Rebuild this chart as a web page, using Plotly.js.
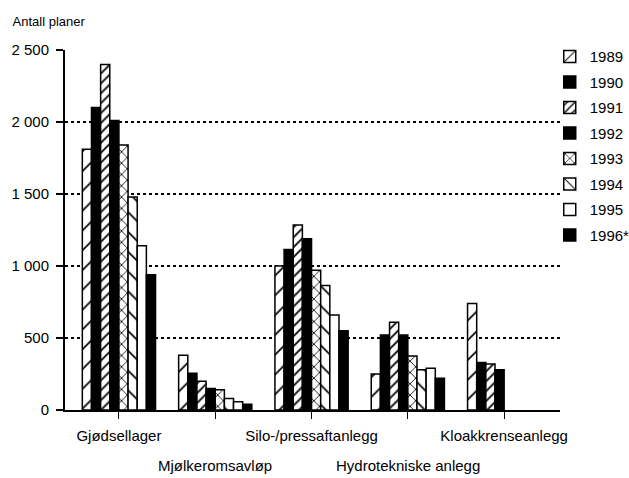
<!DOCTYPE html>
<html>
<head>
<meta charset="utf-8">
<script src="https://cdn.plot.ly/plotly-3.0.1.min.js"></script>
<style>html,body{margin:0;padding:0;background:#fff;}#chart{width:629px;height:478px;}</style>
</head>
<body>
<div id="chart"></div>
<script>
const categories = ["Gjødsellager", "Mjølkeromsavløp", "Silo-/pressaftanlegg", "Hydrotekniske anlegg", "Kloakkrenseanlegg"];
const years = ["1989", "1990", "1991", "1992", "1993", "1994", "1995", "1996*"];
const v1989 = [1810, 380, 1000, 250, 740];
const v1990 = [2100, 255, 1115, 520, 330];
const v1991 = [2400, 200, 1285, 610, 320];
const v1992 = [2010, 150, 1190, 520, 280];
const v1993 = [1840, 140, 970, 375, null];
const v1994 = [1480, 80, 865, 280, null];
const v1995 = [1140, 58, 660, 290, null];
const v1996 = [940, 40, 550, 220, null];
const yTickVals = [0, 500, 1000, 1500, 2000, 2500];
const yTickText = ["0", "500", "1 000", "1 500", "2 000", "2 500"];
const gridVals = [500, 1000, 1500, 2000];

const values = [v1989, v1990, v1991, v1992, v1993, v1994, v1995, v1996];
const styles = [
  {color: "white", pattern: {shape: "/", size: 14, solidity: 0.12, fgcolor: "black", bgcolor: "white"}},
  {color: "black"},
  {color: "white", pattern: {shape: "/", size: 7, solidity: 0.25, fgcolor: "black", bgcolor: "white"}},
  {color: "black"},
  {color: "white", pattern: {shape: "x", size: 8, solidity: 0.2, fgcolor: "black", bgcolor: "white"}},
  {color: "white", pattern: {shape: "\\", size: 14, solidity: 0.12, fgcolor: "black", bgcolor: "white"}},
  {color: "white"},
  {color: "black"}
];

const traces = years.map((yr, i) => {
  const m = Object.assign({line: {color: "black", width: 1.5}}, styles[i]);
  return {
    type: "bar",
    name: yr,
    x: categories,
    y: values[i],
    marker: m,
    legendgroup: "g" + i,
    hoverinfo: "skip"
  };
});

// staggered category labels: even ones as tick labels, odd ones on a lower row
const tickLabels = categories.map((c, i) => (i % 2 === 0 ? c : ""));
const font = "Liberation Sans, Arial, sans-serif";
const lowerRow = categories.filter((c, i) => i % 2 === 1).map(c => ({
  text: c, x: c, xref: "x", y: -0.153, yref: "paper",
  xanchor: "center", yanchor: "middle", showarrow: false,
  font: {family: font, size: 15, color: "#000"}
}));

const layout = {
  width: 629, height: 478,
  margin: {l: 65, r: 69, t: 50, b: 68, autoexpand: false},
  paper_bgcolor: "white", plot_bgcolor: "white",
  barmode: "group",
  bargap: 0.24,
  bargroupgap: 0,
  font: {family: font, color: "#000", size: 15},
  title: {text: "Antall planer", font: {family: font, size: 13, color: "#000"}, xref: "container", yref: "container", x: 0.02, xanchor: "left", y: 0.955, yanchor: "middle"},
  xaxis: {
    type: "category",
    tickmode: "array", tickvals: categories, ticktext: tickLabels,
    tickangle: 0, automargin: false,
    range: [-0.56, 4.58],
    showline: true, linecolor: "black", linewidth: 2,
    ticks: "outside", ticklen: 7, tickwidth: 1, tickcolor: "black",
    ticklabelstandoff: 4,
    tickfont: {family: font, size: 15, color: "#000"},
    showgrid: false, zeroline: false
  },
  yaxis: {
    range: [0, 2500], automargin: false,
    tickmode: "array", tickvals: yTickVals, ticktext: yTickText,
    showline: true, linecolor: "black", linewidth: 2,
    ticks: "outside", ticklen: 7, tickwidth: 1.5, tickcolor: "black",
    ticklabelstandoff: 4,
    tickfont: {family: font, size: 15, color: "#000"},
    showgrid: false, zeroline: false,
    minor: {tickmode: "array", tickvals: gridVals, showgrid: true, gridcolor: "black", gridwidth: 1.5, griddash: "dot", ticks: ""}
  },
  annotations: lowerRow,
  legend: {
    xref: "container", yref: "container",
    x: 0.874, xanchor: "left", y: 0.916, yanchor: "top",
    font: {family: font, size: 15, color: "#000"},
    traceorder: "grouped", tracegroupgap: 3,
    bgcolor: "rgba(0,0,0,0)"
  },
  showlegend: true
};

Plotly.newPlot("chart", traces, layout, {staticPlot: true, displayModeBar: false});
</script>
</body>
</html>
